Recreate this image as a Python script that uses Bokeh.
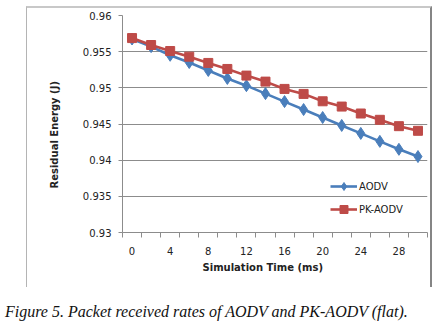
from bokeh.plotting import figure
from bokeh.models import FixedTicker, Legend, LegendItem, Range1d, Title, Div
from bokeh.layouts import column
from bokeh.embed import file_html
from bokeh.resources import INLINE

# ---- data ----
time_ms = [0, 2, 4, 6, 8, 10, 12, 14, 16, 18, 20, 22, 24, 26, 28, 30]
aodv = [0.95675, 0.9557, 0.9545, 0.9535, 0.9524, 0.9513, 0.9503, 0.9492,
        0.9481, 0.9470, 0.9459, 0.9448, 0.9437, 0.9426, 0.9415, 0.9405]
pk_aodv = [0.95688, 0.95592, 0.95509, 0.95431, 0.95344, 0.95261, 0.95169, 0.95086,
           0.94985, 0.94916, 0.94814, 0.94741, 0.94645, 0.94558, 0.9447, 0.94406]
x_tick_values = [0, 4, 8, 12, 16, 20, 24, 28]
x_tick_labels = ["0", "4", "8", "12", "16", "20", "24", "28"]
x_boundaries = [-1, 1, 3, 5, 7, 9, 11, 13, 15, 17, 19, 21, 23, 25, 27, 29, 31]
y_ticks = [0.93, 0.935, 0.94, 0.945, 0.95, 0.955, 0.96]
y_tick_labels = ["0.93", "0.935", "0.94", "0.945", "0.95", "0.955", "0.96"]
x_title = "Simulation Time (ms)"
y_title = "Residual Energy (J)"
caption = "Figure 5. Packet received rates of AODV and PK-AODV (flat)."

BLUE = "#4a7ebb"
RED = "#be4b48"
GRID = "#8c8c8c"
FONT = "DejaVu Sans"
TXT = "#222222"

p = figure(width=406, height=281, output_backend="svg", toolbar_location=None,
           x_range=Range1d(-1, 31), y_range=Range1d(0.93, 0.96),
           min_border_left=95, min_border_right=6, min_border_top=7, min_border_bottom=57,
           background_fill_color="white", border_fill_color="white",
           margin=(6, 0, 0, 26),
           styles={"border-top": "2px solid #c8c8c8",
                   "border-left": "1px solid #b4b4b4",
                   "border-right": "2px solid #858585"})
p.outline_line_color = None
p.xgrid.visible = False
p.ygrid.ticker = FixedTicker(ticks=y_ticks)
p.ygrid.grid_line_color = GRID
p.ygrid.grid_line_width = 1

# x axis
xa = p.xaxis[0]
xa.ticker = FixedTicker(ticks=x_tick_values, minor_ticks=x_boundaries)
xa.major_label_overrides = {v: l for v, l in zip(x_tick_values, x_tick_labels)}
xa.major_tick_out = 0
xa.major_tick_in = 0
xa.minor_tick_out = 5
xa.minor_tick_in = 0
xa.minor_tick_line_color = GRID
xa.axis_line_color = GRID
xa.major_label_standoff = 9
xa.major_label_text_font = FONT
xa.major_label_text_font_size = "10px"
xa.major_label_text_color = TXT

# y axis
ya = p.yaxis[0]
ya.ticker = FixedTicker(ticks=y_ticks)
ya.major_label_overrides = {v: l for v, l in zip(y_ticks, y_tick_labels)}
ya.major_tick_out = 4
ya.major_tick_in = 0
ya.minor_tick_out = 0
ya.minor_tick_in = 0
ya.major_tick_line_color = GRID
ya.axis_line_color = GRID
ya.major_label_standoff = 7
ya.major_label_text_font = FONT
ya.major_label_text_font_size = "10px"
ya.major_label_text_color = TXT

# axis titles (slightly off-centre, as in the reference)
p.add_layout(Title(text=x_title, align="left", offset=80, standoff=4,
                   text_font=FONT, text_font_size="10px", text_font_style="bold",
                   text_color=TXT), "below")
p.add_layout(Title(text=y_title, align="left", offset=44, standoff=39,
                   text_font=FONT, text_font_size="10px", text_font_style="bold",
                   text_color=TXT), "left")

# series
l1 = p.line(time_ms, aodv, line_color=BLUE, line_width=2.6)
s1 = p.scatter(time_ms, aodv, marker="diamond", size=12, fill_color=BLUE, line_color=BLUE)
l2 = p.line(time_ms, pk_aodv, line_color=RED, line_width=2.6)
s2 = p.scatter(time_ms, pk_aodv, marker="square", size=9, fill_color=RED, line_color=RED)

legend = Legend(items=[LegendItem(label="AODV", renderers=[l1, s1]),
                       LegendItem(label="PK-AODV", renderers=[l2, s2])],
                location=(208, 13), orientation="vertical")
legend.background_fill_alpha = 0
legend.border_line_alpha = 0
legend.padding = 0
legend.margin = 0
legend.spacing = 3
legend.glyph_width = 27
legend.glyph_height = 20
legend.label_height = 20
legend.label_standoff = 2
legend.label_text_font = FONT
legend.label_text_font_size = "10px"
legend.label_text_color = TXT
p.add_layout(legend)

# caption below the chart box
cap = Div(text=caption, width=446, height=46,
          styles={"font-family": "'Liberation Serif', serif", "font-style": "italic",
                  "font-size": "16px", "line-height": "18px", "color": "#111111",
                  "padding-top": "16px", "padding-left": "5px", "white-space": "nowrap",
                  "box-sizing": "border-box", "margin": "0"})

layout = column(p, cap, spacing=0)
open("out.html", "w").write(file_html(layout, INLINE))
